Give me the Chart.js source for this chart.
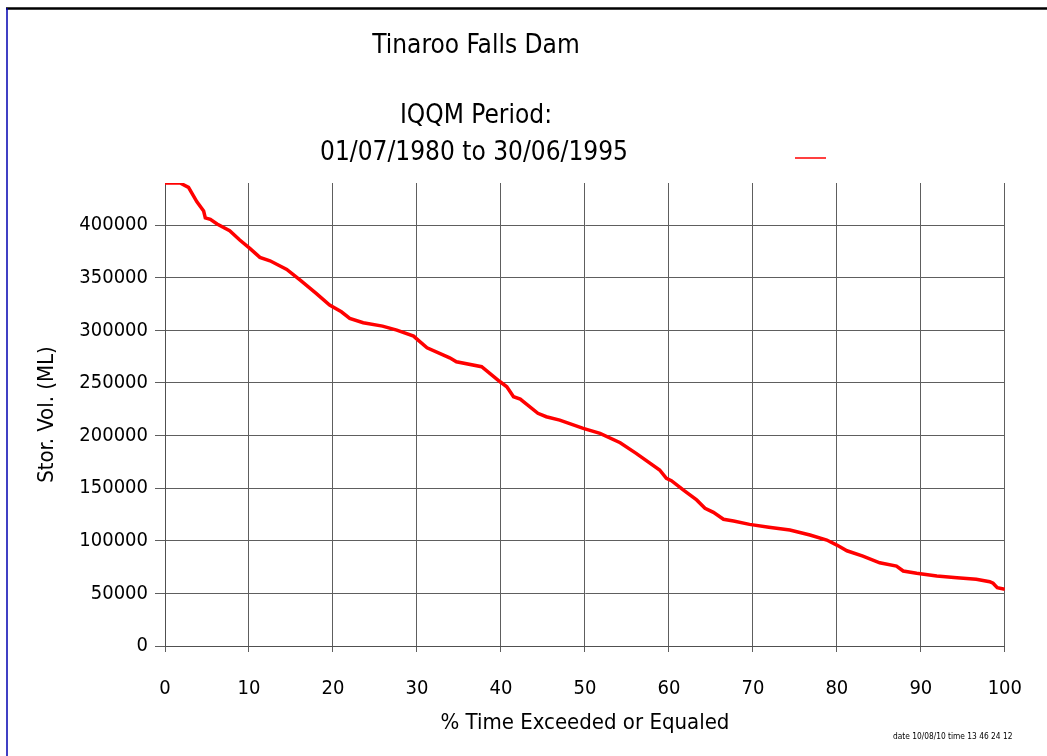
<!DOCTYPE html>
<html>
<head>
<meta charset="utf-8">
<script src="https://cdn.jsdelivr.net/npm/chart.js@4/dist/chart.umd.min.js"></script>
<style>
html,body{margin:0;padding:0;background:#fff;}
#wrap{position:relative;width:1047px;height:756px;}
canvas{display:block;}
</style>
</head>
<body>
<div id="wrap"><canvas id="c" width="1047" height="756"></canvas></div>
<script>
// Data
const pctExceeded = [0, 1.8, 2.8, 3.8, 4.6, 4.8, 5.4, 6.2, 7.7, 8.9, 10.1, 11.3, 12.5, 14.5, 16.1, 18.0, 19.6, 21.0, 22.0, 23.6, 25.9, 27.6, 29.6, 29.9, 31.2, 33.9, 34.7, 37.7, 39.9, 40.7, 41.5, 42.3, 44.4, 45.4, 47.0, 49.8, 51.8, 54.2, 56.1, 58.9, 59.7, 60.3, 61.7, 63.3, 64.3, 65.3, 66.5, 67.7, 69.6, 71.9, 74.4, 76.8, 78.8, 80.0, 81.2, 83.1, 85.1, 87.1, 87.9, 89.5, 91.9, 94.3, 96.6, 98.2, 98.6, 99.1, 100];
const storVol = [440000, 440000, 435800, 422100, 413300, 406900, 405400, 401000, 394600, 385800, 377900, 369300, 366100, 357900, 347700, 335100, 324000, 317600, 311300, 307200, 304000, 300200, 294500, 292400, 283400, 273900, 270100, 265400, 251100, 246400, 236900, 234700, 221100, 217900, 214700, 206800, 202100, 193200, 183100, 167300, 159300, 157100, 148300, 138800, 130900, 127000, 120400, 118800, 115600, 112800, 110200, 105500, 100700, 95900, 90500, 85500, 79100, 76000, 71300, 69100, 66500, 64900, 63400, 61100, 59600, 55400, 53900];
const xTicks = [0, 10, 20, 30, 40, 50, 60, 70, 80, 90, 100];
const yTicks = [0, 50000, 100000, 150000, 200000, 250000, 300000, 350000, 400000];
const titleLines = ['Tinaroo Falls Dam', 'IQQM Period:', '01/07/1980 to 30/06/1995'];
const xTitle = '% Time Exceeded or Equaled';
const yTitle = 'Stor. Vol. (ML)';
const stamp = 'date 10/08/10 time 13 46 24 12';

const FAM = "'Liberation Sans Narrow', 'DejaVu Sans Condensed', 'Liberation Sans', sans-serif";

const points = pctExceeded.map((p, i) => ({x: p, y: storVol[i]}));

const decor = {
  id: 'decor',
  afterDraw(chart) {
    const ctx = chart.ctx;
    ctx.save();
    // frame
    ctx.strokeStyle = '#000';
    ctx.lineWidth = 2.5;
    ctx.beginPath(); ctx.moveTo(6, 8.5); ctx.lineTo(1047, 8.5); ctx.stroke();
    ctx.strokeStyle = '#0000b0';
    ctx.lineWidth = 1.5;
    ctx.beginPath(); ctx.moveTo(7, 8); ctx.lineTo(7, 756); ctx.stroke();
    // titles
    ctx.fillStyle = '#000';
    ctx.textAlign = 'center';
    ctx.textBaseline = 'middle';
    ctx.font = '26px ' + FAM;
    ctx.fillText(titleLines[0], 476, 46);
    ctx.fillText(titleLines[1], 476, 116);
    ctx.fillText(titleLines[2], 474, 153);
    // legend sample line
    ctx.strokeStyle = '#ff0000';
    ctx.lineWidth = 1.5;
    ctx.beginPath(); ctx.moveTo(795, 158); ctx.lineTo(826, 158); ctx.stroke();
    // stamp
    ctx.font = '8.3px ' + FAM;
    ctx.textAlign = 'left';
    ctx.fillText(stamp, 893, 737);
    ctx.restore();
  }
};

new Chart(document.getElementById('c'), {
  type: 'scatter',
  data: {
    datasets: [{
      data: points,
      showLine: true,
      borderColor: '#ff0000',
      backgroundColor: '#ff0000',
      borderWidth: 3.5,
      pointRadius: 0,
      tension: 0
    }]
  },
  options: {
    responsive: false,
    animation: false,
    devicePixelRatio: 1,
    layout: {padding: {left: 20, right: 42, top: 183, bottom: 0}},
    plugins: {legend: {display: false}, tooltip: {enabled: false}, title: {display: false}},
    scales: {
      x: {
        type: 'linear', min: 0, max: 100,
        afterBuildTicks: s => { s.ticks = xTicks.map(v => ({value: v})); },
        afterFit: s => { s.height = 110; },
        grid: {color: '#5e5e5e', lineWidth: 1, tickLength: 6, drawTicks: true},
        border: {color: '#505050', width: 1},
        ticks: {color: '#000', padding: 25, maxRotation: 0, font: {family: FAM, size: 20}},
        title: {display: true, text: xTitle, color: '#000', padding: {top: 0, bottom: 20}, font: {family: FAM, size: 22}}
      },
      y: {
        type: 'linear', min: 0, max: 440000,
        afterBuildTicks: s => { s.ticks = yTicks.map(v => ({value: v})); },
        afterFit: s => { s.width = 145; },
        grid: {color: '#5e5e5e', lineWidth: 1, tickLength: 10},
        border: {color: '#505050', width: 1},
        ticks: {color: '#000', padding: 7, font: {family: FAM, size: 20}, callback: v => String(v)},
        title: {display: true, text: yTitle, color: '#000', padding: {top: 14, bottom: 0}, font: {family: FAM, size: 22}}
      }
    }
  },
  plugins: [decor]
});
</script>
</body>
</html>
